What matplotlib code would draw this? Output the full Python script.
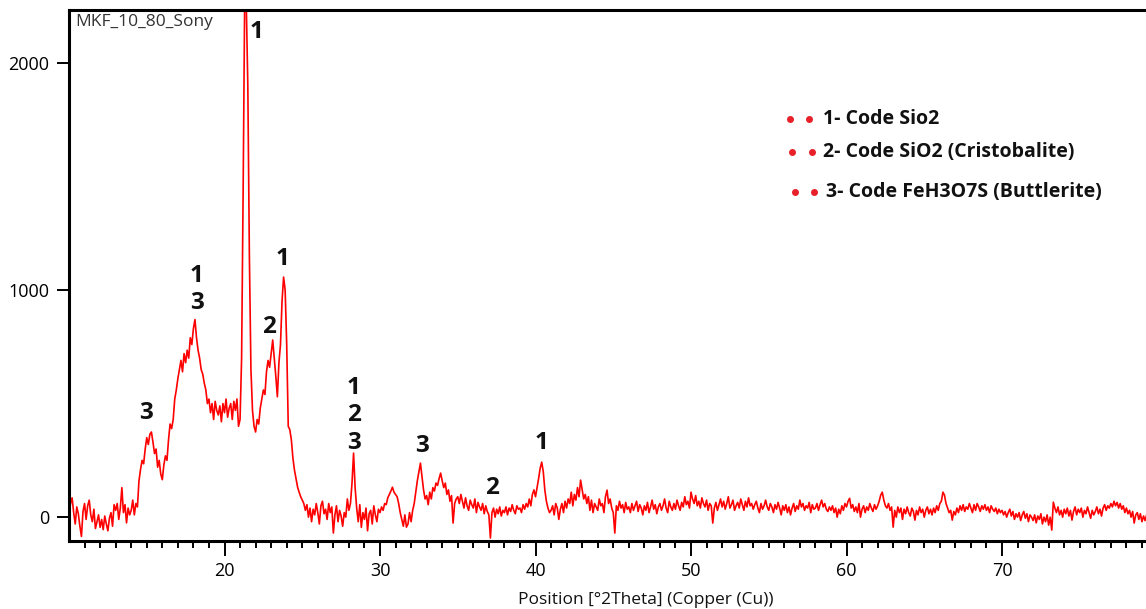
import numpy as np
import matplotlib
matplotlib.use("Agg")
import matplotlib.pyplot as plt
from matplotlib.lines import Line2D

plt.rcParams['font.family'] = ['Open Sans', 'DejaVu Sans']

# Diffractogram: intensity every 0.1 deg 2-theta, starting at 10.0
two_theta_start = 10.0
two_theta_step = 0.1
counts = [
    10, 60, 85, 20, -30, 45, 15, -40, -85, 25,          # 10
    60, -10, 50, 75, 10, -20, 35, -50, -20, 10,         # 11
    -45, -10, -55, 5, -30, -60, -5, 20, -40, 55,        # 12
    30, 60, -10, 40, 130, 20, 55, -25, 40, 10,          # 13
    30, 75, 10, 60, 45, 160, 210, 250, 235, 300,        # 14
    350, 320, 365, 375, 330, 280, 300, 220, 250, 190,   # 15
    165, 230, 270, 250, 340, 410, 390, 430, 520, 560,   # 16
    610, 650, 690, 640, 720, 680, 735, 700, 790, 760,   # 17
    830, 870, 790, 735, 700, 650, 630, 590, 560, 500,   # 18
    520, 460, 500, 430, 510, 470, 450, 490, 420, 500,   # 19
    460, 520, 440, 480, 500, 430, 510, 470, 520, 400,   # 20
    430, 700, 1450, 2300, 2260, 1900, 1150, 650, 470, 400,  # 21
    375, 430, 410, 480, 520, 560, 540, 640, 690, 660,   # 22
    720, 780, 700, 620, 530, 680, 760, 950, 1057, 1000, # 23
    760, 400, 385, 340, 260, 207, 170, 132, 110, 90,    # 24
    75, 60, 30, 55, 0, 40, -20, 35, 10, 60,             # 25
    20, -30, 50, 70, 15, 35, -10, 60, 20, 45,           # 26
    -70, 10, 50, -20, 30, 5, -40, 20, 0, 80,            # 27
    30, 60, 150, 282, 130, 40, -20, 55, -45, 20,        # 28
    -10, 40, -60, 15, 30, -30, 50, 10, -20, 35,         # 29
    20, 45, 30, 60, 55, 85, 100, 115, 132, 110,         # 30
    100, 90, 60, 20, -10, -40, 10, -44, -30, 20,        # 31
    -20, 30, 60, 110, 160, 200, 238, 180, 120, 80,      # 32
    95, 55, 110, 80, 130, 115, 150, 140, 170, 194,      # 33
    160, 130, 150, 100, 120, 70, 95, -26, 60, 80,       # 34
    90, 60, 100, 70, 40, 85, 50, 30, 75, 55,            # 35
    40, 80, 20, 65, 45, 30, 60, 15, 50, 25,             # 36
    10, -92, 20, 40, 0, 35, 15, 45, 5, 30,              # 37
    20, 45, 10, 40, 25, 55, 30, 15, 50, 35,             # 38
    40, 20, 55, 35, 60, 45, 80, 50, 100, 120,           # 39
    90, 130, 170, 215, 242, 200, 120, 70, 40, 20,       # 40
    30, 50, 10, 60, 40, -10, 35, 60, 20, 70,            # 41
    40, 80, 60, 110, 50, 100, 75, 130, 90, 163,         # 42
    120, 80, 100, 60, 90, 30, 75, 20, 60, 45,           # 43
    30, 80, 50, 60, 20, 90, 119, 60, 80, 40,            # 44
    20, -70, 50, 30, 70, 40, 55, 20, 65, 35,            # 45
    45, 20, 60, 30, 50, 70, 25, 55, 40, 10,             # 46
    50, 30, 65, 20, 45, 75, 35, 55, 15, 45,             # 47
    60, 30, 50, 80, 40, 20, 70, 45, 30, 60,             # 48
    35, 75, 50, 30, 65, 45, 90, 55, 70, 40,             # 49
    110, 80, 60, 95, 50, 70, 40, 85, 60, 45,            # 50
    75, 30, 60, 50, -26, 40, 65, 30, 55, 80,            # 51
    45, 70, 35, 60, 90, 40, 55, 75, 30, 50,             # 52
    65, 40, 80, 55, 30, 70, 45, 85, 50, 60,             # 53
    35, 55, 70, 40, 20, 60, 35, 50, 75, 45,             # 54
    30, 60, 45, 20, 55, 35, 65, 40, 10, 50,             # 55
    30, 55, 20, 45, 10, 40, 60, 25, 50, 35,             # 56
    75, 45, 60, 30, 50, 40, 65, 20, 55, 35,             # 57
    40, 60, 30, 55, 75, 45, 60, 35, 25, 45,             # 58
    30, 50, 20, 40, 0, 35, 15, 50, 30, 60,              # 59
    45, 70, 83, 40, 55, 25, 45, 20, 60, 0,              # 60
    35, 50, 20, 45, 30, 60, 40, 25, 55, 35,             # 61
    50, 70, 97, 110, 75, 50, 40, 60, 30, 45,            # 62
    -44, 30, 0, 45, 20, 40, -10, 35, 15, 45,            # 63
    20, 5, 40, 25, -13, 30, 10, 45, 20, 35,             # 64
    0, 30, 45, 15, 35, 10, 40, 20, 50, 30,              # 65
    60, 70, 110, 97, 60, 40, 20, 30, -13, 25,           # 66
    10, 40, 20, 50, 30, 55, 25, 45, 35, 60,             # 67
    40, 20, 55, 30, 60, 45, 25, 50, 35, 55,             # 68
    30, 45, 20, 50, 35, 25, 40, 15, 35, 20,             # 69
    30, 10, 25, 0, 20, 35, 5, 25, -10, 15,              # 70
    0, 20, -15, 10, 25, -5, 15, -20, 10, 0,             # 71
    -15, 10, -25, 5, -10, 15, -30, 0, -20, 10,          # 72
    -35, 0, -57, 66, 40, 20, 45, 10, 30, 0,             # 73
    35, 15, 40, 5, 30, -13, 25, 45, 10, 35,             # 74
    20, 40, 0, 30, 15, 45, 20, -5, 30, 10,              # 75
    25, 45, 15, 35, 5, 40, 55, 30, 50, 40,              # 76
    60, 45, 70, 50, 65, 40, 60, 35, 50, 20,             # 77
    40, 15, 30, 0, 25, -26, 10, 20, -10, 15,            # 78
    -20, 5, -15, 10,                                    # 79
]
two_theta = two_theta_start + two_theta_step * np.arange(len(counts))

# Phase labels: (2theta, intensity, text)
peak_labels = [
    (22.06, 2137, "1"),
    (18.20, 1002, "1\n3"),
    (23.73, 1137, "1"),
    (22.83, 837, "2"),
    (14.98, 458, "3"),
    (28.30, 449, "1\n2\n3"),
    (32.73, 313, "3"),
    (37.17, 128, "2"),
    (40.39, 326, "1"),
]

phase_names = [
    "1- Code Sio2",
    "2- Code SiO2 (Cristobalite)",
    "3- Code FeH3O7S (Buttlerite)",
]

W, H = 1146, 609
fig = plt.figure(figsize=(W / 100, H / 100), dpi=100)
ax = fig.add_axes([69 / W, (H - 541) / H, (W - 69) / W, (541 - 10) / H])

ax.plot(two_theta, counts, color="#ff0000", lw=1.2)

ax.set_xlim(10, 79.26)
ax.set_ylim(-105, 2233)

ax.set_xticks([20, 30, 40, 50, 60, 70])
ax.set_xticks(np.arange(11, 80, 1), minor=True)
ax.set_yticks([0, 1000, 2000])

ax.tick_params(axis="x", which="major", length=11, width=1.4, pad=4, labelsize=13)
ax.tick_params(axis="x", which="minor", length=5, width=1.4)
ax.tick_params(axis="y", which="major", length=9, width=1.4, pad=5, labelsize=13)

for side in ("left", "bottom", "top"):
    ax.spines[side].set_linewidth(2.2)
    ax.spines[side].set_color("black")
ax.spines["right"].set_visible(False)

fig.text(75 / W, 1 - 22 / H, "MKF_10_80_Sony", ha="left", va="center",
         fontsize=12.5, color="#333333")

for x, y, s in peak_labels:
    ax.text(x, y, s, ha="center", va="center", fontsize=17.5, fontweight="bold",
            color="#111111", linespacing=1.2)

# Phase key
key_rows = [(790, 809, 823, 119), (792, 812, 823, 152), (795, 814, 826, 192)]
for (d1, d2, tx, ty), name in zip(key_rows, phase_names):
    fig.lines.append(Line2D(
        [d1 / W, d2 / W], [1 - ty / H, 1 - ty / H], transform=fig.transFigure,
        ls="none", marker="o", ms=4, color="#e8202a"))
    fig.text(tx / W, 1 - ty / H, name, ha="left", va="center",
             fontsize=14, fontweight="bold", color="#111111")

fig.text(646 / W, 1 - 600 / H, "Position [°2Theta] (Copper (Cu))",
         ha="center", va="center", fontsize=12.5, color="#111111")

fig.savefig("out.png", dpi=100)
